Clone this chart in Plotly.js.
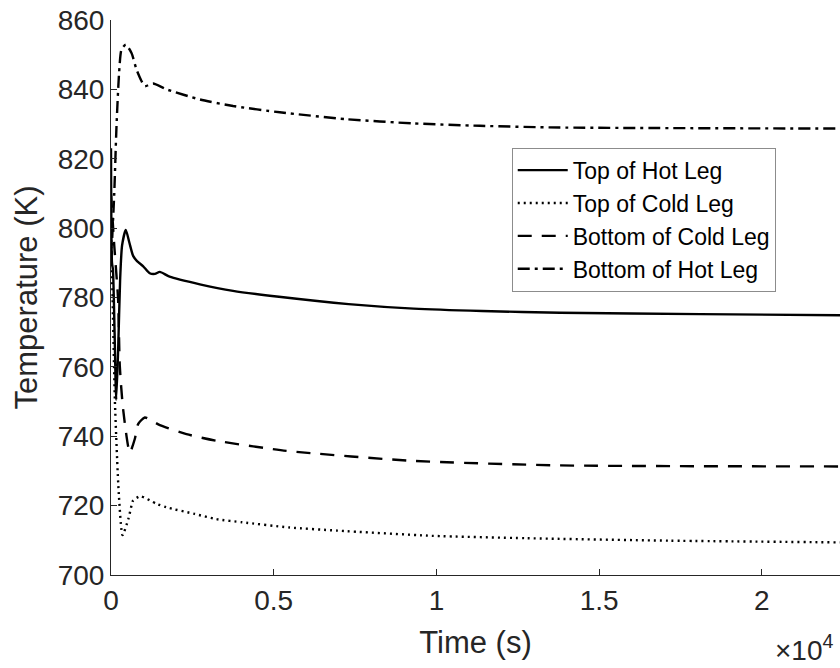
<!DOCTYPE html>
<html>
<head>
<meta charset="utf-8">
<script src="https://cdn.plot.ly/plotly-3.0.1.min.js"></script>
<style>html,body{margin:0;padding:0;background:#fff;}#chart{width:840px;height:668px;}</style>
</head>
<body>
<div id="chart"></div>
<script>
// Time (s)
const tTopHot = [0, 30, 60, 110, 160, 220, 280, 340, 455, 560, 680, 800, 990, 1190, 1350, 1500, 1800, 2730, 3750, 5160, 7300, 9300, 11400, 13800, 18100, 22400];
const topHotLeg = [823, 790, 788, 770, 750.5, 765, 785, 795, 799.5, 796, 792, 790.5, 789, 787, 786.8, 787.4, 786, 783.8, 781.9, 780.2, 778.1, 776.8, 776.1, 775.6, 775.2, 774.9];

const tTopCold = [0, 60, 120, 240, 355, 532, 630, 676, 894, 1404, 1706, 2572, 3242, 4029, 5488, 6945, 9858, 12778, 17141, 22400];
const topColdLeg = [800, 775, 750, 723.3, 711.5, 716.1, 720, 721.4, 722.7, 720.5, 719.5, 717.6, 716.1, 715.2, 713.7, 712.8, 711.3, 710.6, 709.9, 709.4];

const tBotCold = [0, 100, 218, 270, 372, 578, 731, 833, 1039, 1500, 2320, 3242, 5393, 9284, 13791, 22400];
const bottomColdLeg = [810, 795, 779.5, 760.3, 747.8, 735.3, 739.2, 743.5, 745.4, 743.2, 740.6, 738.7, 735.8, 732.9, 731.6, 731.3];

const tBotHot = [0, 100, 169, 249, 323, 455, 630, 784, 937, 1039, 1294, 1706, 2729, 3752, 5187, 7237, 9283, 11333, 13791, 22400];
const bottomHotLeg = [790, 810, 829.4, 844.8, 851.5, 852.9, 850.5, 845.7, 842.4, 840.9, 841.7, 840, 837.1, 835.2, 833.4, 831.4, 830.2, 829.5, 829.0, 828.7];

const xTickVals = [0, 5000, 10000, 15000, 20000];
const xTickText = ['0', '0.5', '1', '1.5', '2'];
const yTickVals = [700, 720, 740, 760, 780, 800, 820, 840, 860];

const seriesNames = ['Top of Hot Leg', 'Top of Cold Leg', 'Bottom of Cold Leg', 'Bottom of Hot Leg'];

const lineW = 2.4;
const traces = [
  {x: tTopHot, y: topHotLeg, name: seriesNames[0], line: {color: '#000', width: lineW, dash: 'solid'}},
  {x: tTopCold, y: topColdLeg, name: seriesNames[1], line: {color: '#000', width: lineW, dash: '2px,4px'}},
  {x: tBotCold, y: bottomColdLeg, name: seriesNames[2], line: {color: '#000', width: lineW, dash: '14px,10px'}},
  {x: tBotHot, y: bottomHotLeg, name: seriesNames[3], line: {color: '#000', width: lineW, dash: '12px,5px,3px,5px'}}
].map(t => {
  t.type = 'scatter'; t.mode = 'lines';
  t.line.shape = 'spline'; t.line.smoothing = 0.6;
  return t;
});

const fontFam = 'Liberation Sans, Arial, Helvetica, sans-serif';
const layout = {
  width: 840, height: 668,
  margin: {l: 111, r: 0, t: 20, b: 93},
  paper_bgcolor: '#fff', plot_bgcolor: '#fff',
  showlegend: true,
  font: {family: fontFam, color: '#262626', size: 28},
  xaxis: {
    range: [0, 22400], tickvals: xTickVals, ticktext: xTickText,
    ticks: 'inside', ticklen: 6, tickcolor: '#262626', tickwidth: 1,
    showline: true, linecolor: '#262626', linewidth: 1, mirror: false,
    showgrid: false, zeroline: false,
    tickfont: {size: 28, color: '#262626'},
    title: {text: 'Time (s)', font: {size: 31, color: '#262626'}, standoff: 16},
    automargin: false
  },
  yaxis: {
    range: [700, 860], tickvals: yTickVals,
    ticks: 'inside', ticklen: 6, tickcolor: '#262626', tickwidth: 1,
    showline: true, linecolor: '#262626', linewidth: 1, mirror: false,
    showgrid: false, zeroline: false,
    tickfont: {size: 28, color: '#262626'},
    title: {text: 'Temperature (K)', font: {size: 31, color: '#262626'}, standoff: 10},
    automargin: false
  },
  legend: {
    x: 0.5497, y: 0.770, xanchor: 'left', yanchor: 'top',
    bordercolor: '#8c8c8c', borderwidth: 1, bgcolor: '#fff',
    font: {size: 23, color: '#000', family: fontFam},
    itemwidth: 50,
    entrywidth: 245, entrywidthmode: 'pixels',
    tracegroupgap: 0
  },
  annotations: [{
    xref: 'paper', yref: 'paper', x: 0.995, y: -0.095, xanchor: 'right', yanchor: 'top',
    text: '\u00d710<sup>4</sup>', showarrow: false, font: {size: 28, color: '#262626'}
  }]
};

Plotly.newPlot('chart', traces, layout, {displayModeBar: false, staticPlot: true});
</script>
</body>
</html>
